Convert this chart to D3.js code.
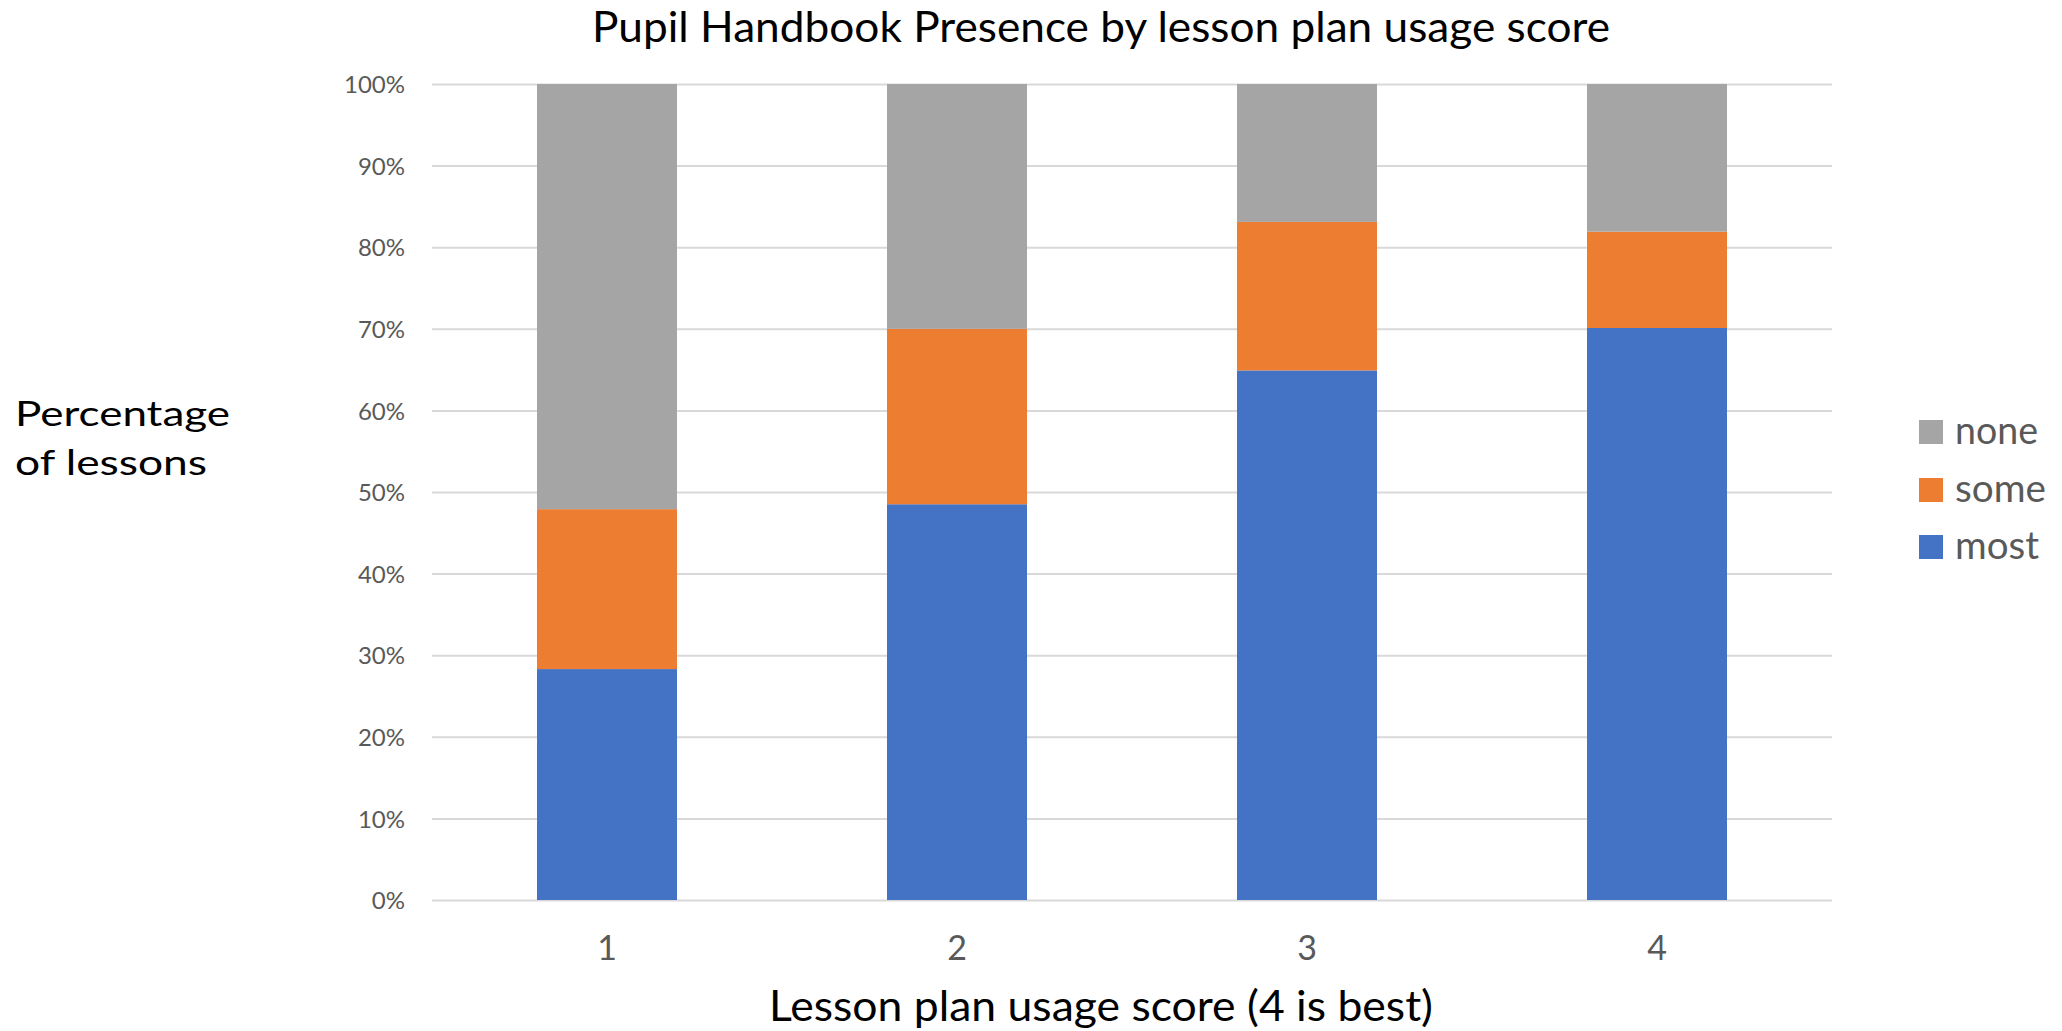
<!DOCTYPE html>
<html>
<head>
<meta charset="utf-8">
<script src="https://cdn.jsdelivr.net/npm/d3@7"></script>
<style>
  html, body { margin: 0; padding: 0; background: #fff; }
  svg { display: block; }
  text { font-family: Lato, "Open Sans", sans-serif; }
</style>
</head>
<body>
<svg id="chart" width="2062" height="1031"></svg>
<script>
const categories = ["1", "2", "3", "4"];
const seriesNames = ["most", "some", "none"];
const most = [28.3, 48.5, 64.9, 70.1];
const some = [19.6, 21.5, 18.2, 11.8];
const none = [52.1, 30.0, 16.9, 18.1];
const yTicks = [0, 10, 20, 30, 40, 50, 60, 70, 80, 90, 100];
const legendOrder = ["none", "some", "most"];

const colors = { most: "#4472C4", some: "#ED7D31", none: "#A5A5A5" };
const tableRows = categories.map((c, i) => ({ cat: c, most: most[i], some: some[i], none: none[i] }));

const svg = d3.select("#chart");
const plot = { left: 432, right: 1832, top: 84, bottom: 900 };

const x = d3.scaleBand().domain(categories).range([plot.left, plot.right]).paddingInner(0.6).paddingOuter(0.3);
const y = d3.scaleLinear().domain([0, 100]).range([plot.bottom, plot.top]);

// gridlines + y ticks
const yAxis = d3.axisLeft(y).tickValues(yTicks).tickFormat(d => d + "%")
  .tickSize(-(plot.right - plot.left)).tickPadding(27);
const gy = svg.append("g").attr("transform", `translate(${plot.left},0)`).call(yAxis);
gy.select(".domain").remove();
gy.selectAll(".tick line").attr("stroke", "#D9D9D9").attr("stroke-width", 2);
gy.selectAll(".tick text").attr("fill", "#595959").attr("font-size", 24)
  .attr("font-family", "Lato, 'Open Sans', sans-serif").attr("dy", "0.36em");

// stacked bars
const stack = d3.stack().keys(seriesNames)(tableRows);
svg.append("g").selectAll("g").data(stack).join("g")
  .attr("fill", d => colors[d.key])
  .selectAll("rect").data(d => d).join("rect")
  .attr("x", d => x(d.data.cat))
  .attr("width", x.bandwidth())
  .attr("y", d => y(d[1]))
  .attr("height", d => y(d[0]) - y(d[1]));

// x axis labels
const xAxis = d3.axisBottom(x).tickSize(0).tickPadding(0);
const gx = svg.append("g").attr("transform", `translate(0,${plot.bottom})`).call(xAxis);
gx.select(".domain").remove();
gx.selectAll(".tick text").attr("fill", "#595959").attr("font-size", 34)
  .attr("font-family", "Lato, 'Open Sans', sans-serif").attr("dy", null).attr("y", 60);

// Title
svg.append("text").attr("x", 592).attr("y", 42).attr("font-size", 42).attr("fill", "#000")
  .attr("textLength", 1018).attr("lengthAdjust", "spacingAndGlyphs")
  .text("Pupil Handbook Presence by lesson plan usage score");

// X title
svg.append("text").attr("x", 769).attr("y", 1021).attr("font-size", 43).attr("fill", "#000")
  .attr("textLength", 664).attr("lengthAdjust", "spacingAndGlyphs")
  .text("Lesson plan usage score (4 is best)");

// Y title (two lines)
svg.append("text").attr("x", 15).attr("y", 426).attr("font-size", 35).attr("fill", "#000")
  .attr("textLength", 215).attr("lengthAdjust", "spacingAndGlyphs").text("Percentage");
svg.append("text").attr("x", 15).attr("y", 475).attr("font-size", 35).attr("fill", "#000")
  .attr("textLength", 192).attr("lengthAdjust", "spacingAndGlyphs").text("of lessons");

// Legend
const legBase = [444, 502, 559];
const legWidths = { none: 83, some: 91, most: 84 };
const lg = svg.append("g");
legendOrder.forEach((k, i) => {
  lg.append("rect").attr("x", 1919).attr("y", legBase[i] - 24).attr("width", 24).attr("height", 24).attr("fill", colors[k]);
  lg.append("text").attr("x", 1955).attr("y", legBase[i]).attr("font-size", 38).attr("fill", "#595959")
    .attr("textLength", legWidths[k]).attr("lengthAdjust", "spacingAndGlyphs").text(k);
});
</script>
</body>
</html>
